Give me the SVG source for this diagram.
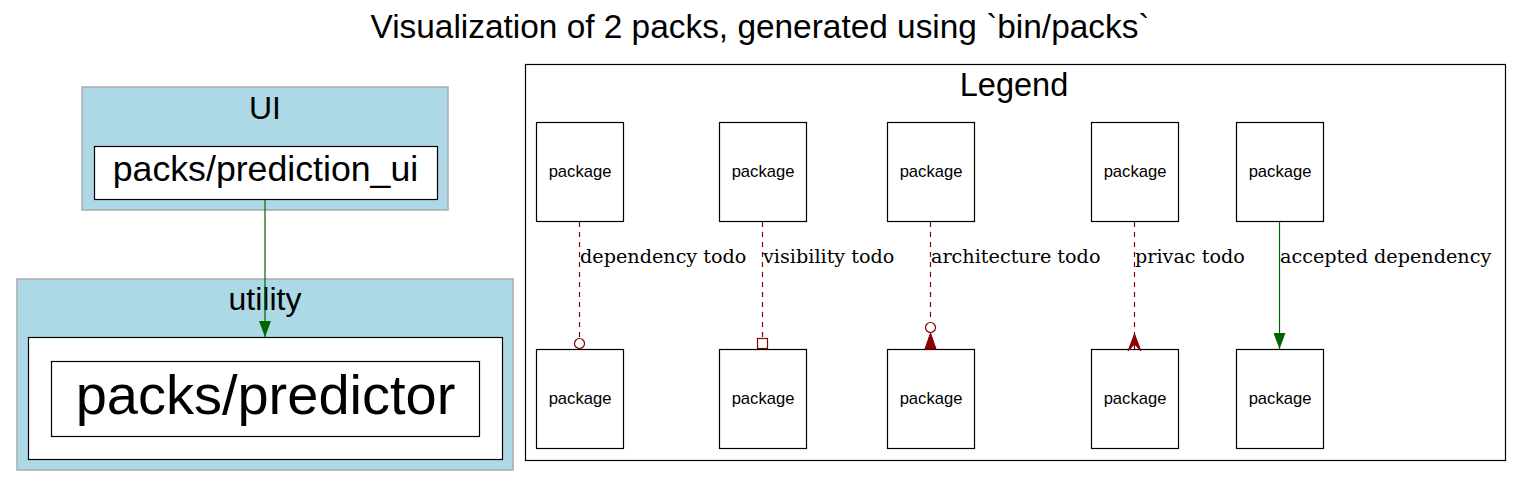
<svg xmlns="http://www.w3.org/2000/svg" width="1521" height="488" viewBox="0 0 1521 488">
<style>
.sans{font-family:"Liberation Sans",Arial,sans-serif;fill:#000}
.serif{font-family:"DejaVu Serif",serif;font-size:19.2px;fill:#000}
.cluster{fill:#add8e6;stroke:#aaaaaa;stroke-width:1.5}
.node{fill:#fff;stroke:#000;stroke-width:1.2}
.pkg{font-size:16.6px}
.todo{stroke:#8b0000;stroke-width:1.2;stroke-dasharray:5,5;fill:none}
.ok{stroke:#006400;stroke-width:1.2;fill:none}
</style>
<defs>
<marker id="green" markerWidth="16" markerHeight="12" refX="16" refY="6" orient="auto" markerUnits="userSpaceOnUse" viewBox="0 0 16 12">
<polygon points="0,0 16,6 0,12" fill="#006400"/>
</marker>
</defs>
<rect width="1521" height="488" fill="#fff"/>
<text class="sans" x="760" y="38" font-size="33.4" text-anchor="middle">Visualization of 2 packs, generated using `bin/packs`</text>

<g id="cluster_UI">
<rect class="cluster" x="82" y="87" width="366" height="123"/>
<text class="sans" x="265" y="119" font-size="32" text-anchor="middle">UI</text>
</g>
<g id="node_prediction_ui">
<rect class="node" x="94.5" y="146.5" width="343" height="53"/>
<text class="sans" x="265.5" y="181" font-size="35.7" text-anchor="middle">packs/prediction_ui</text>
</g>
<g id="cluster_utility">
<rect class="cluster" x="17" y="279" width="496" height="191"/>
<text class="sans" x="265" y="310" font-size="32" text-anchor="middle">utility</text>
</g>
<g id="node_utility_box">
<rect class="node" x="28.5" y="337.5" width="474" height="122"/>
</g>
<g id="node_predictor">
<rect class="node" x="51.5" y="361.5" width="428" height="75"/>
<text class="sans" x="265.5" y="414" font-size="56" text-anchor="middle">packs/predictor</text>
</g>

<g id="legend">
<rect x="525.5" y="64.5" width="980" height="396" fill="#fff" stroke="#000" stroke-width="1.2"/>
<text class="sans" x="1014" y="96" font-size="32.5" text-anchor="middle">Legend</text>
</g>
<g id="legend_nodes">
<g id="l1a"><rect class="node" x="536.5" y="122.5" width="87" height="99"/><text class="sans pkg" x="580" y="177" text-anchor="middle">package</text></g>
<g id="l2a"><rect class="node" x="719.5" y="122.5" width="87" height="99"/><text class="sans pkg" x="763" y="177" text-anchor="middle">package</text></g>
<g id="l3a"><rect class="node" x="887.5" y="122.5" width="87" height="99"/><text class="sans pkg" x="931" y="177" text-anchor="middle">package</text></g>
<g id="l4a"><rect class="node" x="1091.5" y="122.5" width="87" height="99"/><text class="sans pkg" x="1135" y="177" text-anchor="middle">package</text></g>
<g id="l5a"><rect class="node" x="1236.5" y="122.5" width="87" height="99"/><text class="sans pkg" x="1280" y="177" text-anchor="middle">package</text></g>
<g id="l1b"><rect class="node" x="536.5" y="349.5" width="87" height="99"/><text class="sans pkg" x="580" y="404" text-anchor="middle">package</text></g>
<g id="l2b"><rect class="node" x="719.5" y="349.5" width="87" height="99"/><text class="sans pkg" x="763" y="404" text-anchor="middle">package</text></g>
<g id="l3b"><rect class="node" x="887.5" y="349.5" width="87" height="99"/><text class="sans pkg" x="931" y="404" text-anchor="middle">package</text></g>
<g id="l4b"><rect class="node" x="1091.5" y="349.5" width="87" height="99"/><text class="sans pkg" x="1135" y="404" text-anchor="middle">package</text></g>
<g id="l5b"><rect class="node" x="1236.5" y="349.5" width="87" height="99"/><text class="sans pkg" x="1280" y="404" text-anchor="middle">package</text></g>
</g>

<g id="connectors">
<line class="ok" x1="265" y1="200" x2="265" y2="337" marker-end="url(#green)"/>

<line class="todo" x1="579.5" y1="222" x2="579.5" y2="338"/>
<circle cx="579.5" cy="343.5" r="5" fill="#fff" stroke="#8b0000" stroke-width="1.2"/>
<text class="serif" x="580" y="263">dependency todo</text>

<line class="todo" x1="762.5" y1="222" x2="762.5" y2="338"/>
<rect x="757.5" y="338.5" width="10" height="10" fill="#fff" stroke="#8b0000" stroke-width="1.2"/>
<text class="serif" x="763" y="263">visibility todo</text>

<line class="todo" x1="930.5" y1="222" x2="930.5" y2="322"/>
<circle cx="930.5" cy="327.5" r="5" fill="#fff" stroke="#8b0000" stroke-width="1.2"/>
<polygon points="930.5,333 925,349 936,349" fill="#8b0000" stroke="#8b0000" stroke-width="1"/>
<text class="serif" x="931" y="263">architecture todo</text>

<line class="todo" x1="1134.5" y1="222" x2="1134.5" y2="338"/>
<polygon points="1134.5,334 1141,351 1134.5,344 1128,351" fill="#8b0000" stroke="#8b0000" stroke-width="1"/>
<line x1="1134.5" y1="334" x2="1134.5" y2="349" stroke="#8b0000" stroke-width="1.2"/>
<text class="serif" x="1135" y="263">privac todo</text>

<line class="ok" x1="1279.5" y1="222" x2="1279.5" y2="349" marker-end="url(#green)"/>
<text class="serif" x="1280" y="263">accepted dependency</text>
</g>
</svg>
